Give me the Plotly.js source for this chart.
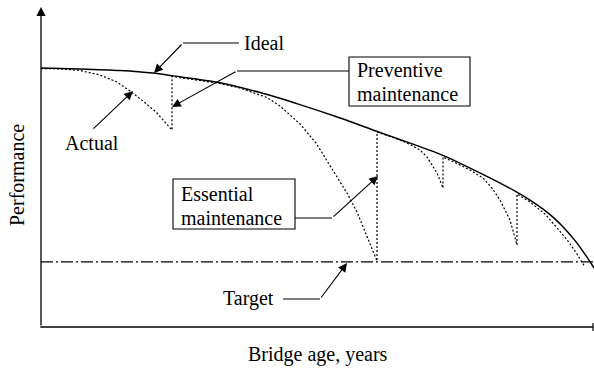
<!DOCTYPE html>
<html>
<head>
<meta charset="utf-8">
<script src="https://cdn.plot.ly/plotly-3.0.1.min.js"></script>
<style>html,body{margin:0;padding:0;background:#fff;}#chart{width:594px;height:368px;}</style>
</head>
<body>
<div id="chart"></div>
<script>
// Ideal performance curve (age 0-100, performance 0-100)
const ageIdeal  = [0, 7.07, 14.3, 20.3, 23.7, 32.4, 39.7, 46.9, 54.2, 60.9, 65.0, 72.8, 79.5, 86.2, 88.6, 90.9, 93.1, 95.1, 97.1, 98.9, 100.2];
const perfIdeal = [81.2, 80.9, 80.4, 79.6, 78.8, 76.6, 73.5, 69.7, 65.5, 61.3, 58.8, 53.8, 48.3, 42.3, 39.8, 37.0, 33.9, 30.4, 26.3, 21.9, 18.5];

// Actual performance with maintenance interventions
const ageActual  = [0, 3.44, 7.07, 10.69, 13.77, 16.12, 18.48, 21.01, 23.73,
                    23.73, 28.80, 32.43, 36.05, 38.77, 40.94, 43.30, 45.11, 46.92, 49.82, 52.90, 55.43, 57.25, 59.06, 60.87,
                    60.87, 65.04, 66.85, 68.66, 69.93, 71.74, 72.83,
                    72.83, 75.36, 77.72, 80.07, 81.70, 83.15, 84.96, 86.23,
                    86.23, 88.59, 91.30, 93.66, 95.47, 97.10, 98.55];
const perfActual = [81.03, 80.94, 80.41, 79.00, 76.80, 73.98, 70.85, 67.08, 61.76,
                    78.53, 77.27, 76.33, 74.92, 73.35, 71.94, 69.28, 66.46, 63.64, 57.68, 49.22, 42.01, 36.05, 28.53, 20.69,
                    61.13, 58.62, 57.21, 55.49, 53.29, 48.28, 43.57,
                    53.29, 51.25, 49.22, 46.71, 43.57, 39.81, 33.54, 25.71,
                    41.69, 39.18, 35.42, 30.72, 26.96, 22.88, 18.81];

// Target level
const targetAge  = [0, 100];
const targetPerf = [20.4, 20.4];

// Labels
const labelIdeal = 'Ideal';
const labelActual = 'Actual';
const labelPrev = ['Preventive', 'maintenance'];
const labelEss = ['Essential', 'maintenance'];
const labelTarget = 'Target';
const xTitle = 'Bridge age, years';
const yTitle = 'Performance';

// pixel -> data helpers for layout placement
const PX = p => (p - 41) / 5.52;
const PY = p => (327 - p) / 3.19;

const FONT = {family: 'Liberation Serif', size: 20, color: '#000'};

const traces = [
  {x: targetAge, y: targetPerf, mode: 'lines', line: {color: '#000', width: 1.1, dash: '12px,3px,2px,3px'}, hoverinfo: 'skip'},
  {x: ageActual, y: perfActual, mode: 'lines', line: {color: '#000', width: 1.2, dash: '2px,2px'}, hoverinfo: 'skip'},
  {x: ageIdeal, y: perfIdeal, mode: 'lines', line: {color: '#000', width: 1.5, shape: 'spline', smoothing: 0.8}, hoverinfo: 'skip'}
];

function arrow(tipx, tipy, tailx, taily) {
  return {x: PX(tipx), y: PY(tipy), ax: PX(tailx), ay: PY(taily), xref: 'x', yref: 'y', axref: 'x', ayref: 'y',
          showarrow: true, text: '', arrowhead: 2, arrowsize: 1.6, arrowwidth: 1.1, arrowcolor: '#000', standoff: 0, startstandoff: 0};
}
function label(text, px, py, anchor) {
  return {x: PX(px), y: PY(py), xref: 'x', yref: 'y', text: text, showarrow: false, xanchor: anchor || 'left', yanchor: 'middle', font: FONT};
}
function hline(x0, x1, y) {
  return {type: 'line', xref: 'x', yref: 'y', x0: PX(x0), x1: PX(x1), y0: PY(y), y1: PY(y), line: {color: '#000', width: 1.1}};
}

const annotations = [
  // y axis with arrow
  {x: PX(41), y: PY(7), ax: PX(41), ay: PY(327), xref: 'x', yref: 'y', axref: 'x', ayref: 'y', showarrow: true, text: '',
   arrowhead: 2, arrowsize: 1.4, arrowwidth: 1.3, arrowcolor: '#000', standoff: 0, startstandoff: 0},
  arrow(154, 73, 183, 43),
  arrow(133, 91, 92, 130),
  arrow(172, 107, 237, 71),
  arrow(378, 176, 332, 218),
  arrow(347, 263, 320, 299),
  label(labelIdeal, 242, 43),
  label(labelActual, 92, 143, 'center'),
  label(labelPrev[0], 355, 70),
  label(labelPrev[1], 355, 94),
  label(labelEss[0], 179, 194),
  label(labelEss[1], 179, 218),
  label(labelTarget, 276, 298, 'right'),
  label(xTitle, 318, 354, 'center'),
  {x: PX(17), y: PY(175), xref: 'x', yref: 'y', text: yTitle, showarrow: false, textangle: -90, xanchor: 'center', yanchor: 'middle', font: FONT}
];

const shapes = [
  // x axis
  {type: 'line', xref: 'x', yref: 'y', x0: PX(40.3), x1: PX(593), y0: PY(327), y1: PY(327), line: {color: '#000', width: 1.5}},
  {type: 'line', xref: 'x', yref: 'y', x0: PX(593), x1: PX(593), y0: PY(323), y1: PY(331), line: {color: '#000', width: 1.2}},
  hline(183, 239, 43),
  hline(237, 349, 71),
  hline(295, 332, 218),
  hline(283, 320, 299),
  {type: 'rect', xref: 'x', yref: 'y', x0: PX(349), x1: PX(470), y0: PY(57), y1: PY(106), line: {color: '#000', width: 1.1}, fillcolor: 'rgba(0,0,0,0)'},
  {type: 'rect', xref: 'x', yref: 'y', x0: PX(173), x1: PX(295), y0: PY(179), y1: PY(229), line: {color: '#000', width: 1.1}, fillcolor: 'rgba(0,0,0,0)'}
];

const layout = {
  width: 594, height: 368,
  margin: {l: 0, r: 0, t: 0, b: 0, pad: 0},
  paper_bgcolor: '#fff', plot_bgcolor: '#fff',
  showlegend: false,
  font: FONT,
  xaxis: {range: [PX(0), PX(594)], visible: false, fixedrange: true},
  yaxis: {range: [PY(368), PY(0)], visible: false, fixedrange: true},
  annotations: annotations,
  shapes: shapes
};

Plotly.newPlot('chart', traces, layout, {staticPlot: true, displayModeBar: false});
</script>
</body>
</html>
